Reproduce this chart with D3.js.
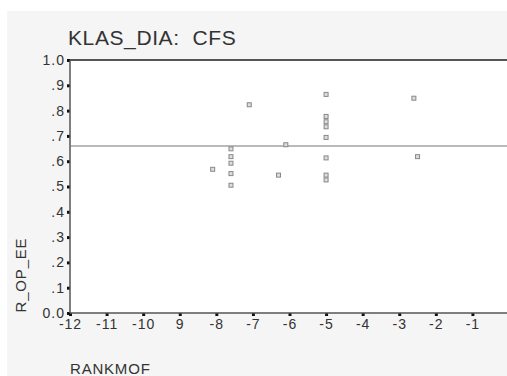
<!DOCTYPE html>
<html><head><meta charset="utf-8">
<script src="https://cdn.jsdelivr.net/npm/d3@7/dist/d3.min.js"></script>
<style>html,body{margin:0;padding:0;background:#fff;overflow:hidden}</style>
</head><body><svg id="c" width="507" height="376"></svg>
<script>
const title = "KLAS_DIA:  CFS";
const xLabel = "RANKMOF";
const yLabel = "R_OP_EE";
const xTicks = [-12,-11,-10,-9,-8,-7,-6,-5,-4,-3,-2,-1];
const xTickLabels = ["-12","-11","-10","9","-8","-7","-6","-5","-4","-3","-2","-1"];
const yTicks = [0,0.1,0.2,0.3,0.4,0.5,0.6,0.7,0.8,0.9,1.0];
const yTickLabels = ["0.0",".1",".2",".3",".4",".5",".6",".7",".8",".9","1.0"];
const refLine = 0.66;
const xs = [-7.1,-5,-2.6,-5,-5,-5,-5,-6.1,-7.6,-7.6,-7.6,-7.6,-7.6,-8.1,-6.3,-5,-5,-5,-2.5];
const ys = [0.823,0.864,0.849,0.777,0.756,0.736,0.694,0.665,0.649,0.618,0.592,0.551,0.505,0.568,0.545,0.613,0.545,0.526,0.618];

const svg = d3.select("#c");
const font = "'Liberation Sans', Arial, sans-serif";
svg.append("rect").attr("x",7).attr("y",11).attr("width",500).attr("height",365).attr("fill","#f5f5f5");
const x = d3.scaleLinear().domain([-12,0]).range([70,509]);
const y = d3.scaleLinear().domain([0,1]).range([313,60]);
svg.append("rect").attr("x",x(-12)).attr("y",y(1)).attr("width",507-x(-12)).attr("height",y(0)-y(1)).attr("fill","#fff");

svg.append("text").attr("x",68).attr("y",45).attr("font-family",font).attr("font-size",21)
  .attr("letter-spacing",0.6).style("white-space","pre").attr("fill","#333").text(title);

// x axis
const xa = svg.append("g").attr("transform",`translate(0,${y(0)})`)
  .call(d3.axisBottom(x).tickValues(xTicks).tickFormat((d,i)=>xTickLabels[i]).tickSize(0).tickPadding(6));
xa.select(".domain").remove();
xa.selectAll("text").attr("font-family",font).attr("font-size",14).attr("letter-spacing",1).attr("fill","#333");
xa.selectAll(".tick").append("rect").attr("x",-1.5).attr("y",0).attr("width",3).attr("height",3).attr("fill","#111");

const ya = svg.append("g").attr("transform",`translate(${x(-12)},0)`)
  .call(d3.axisLeft(y).tickValues(yTicks).tickFormat((d,i)=>yTickLabels[i]).tickSize(0).tickPadding(5));
ya.select(".domain").remove();
ya.selectAll("text").attr("font-family",font).attr("font-size",14).attr("letter-spacing",1).attr("fill","#333");
ya.selectAll(".tick").append("rect").attr("x",-3).attr("y",-1.5).attr("width",3).attr("height",3).attr("fill","#111");

// frame lines
svg.append("line").attr("x1",x(-12)).attr("x2",507).attr("y1",y(0)).attr("y2",y(0)).attr("stroke","#555").attr("stroke-width",1.5);
svg.append("line").attr("x1",x(-12)).attr("x2",507).attr("y1",y(1)).attr("y2",y(1)).attr("stroke","#555").attr("stroke-width",2);
svg.append("line").attr("x1",x(-12)).attr("x2",x(-12)).attr("y1",y(1)).attr("y2",y(0)).attr("stroke","#555").attr("stroke-width",1.5);

svg.append("line").attr("x1",x(-12)).attr("x2",507).attr("y1",y(refLine)).attr("y2",y(refLine)).attr("stroke","#777").attr("stroke-width",1.2);

svg.append("g").selectAll("rect").data(xs).join("rect")
  .attr("x",(d)=>x(d)-2).attr("y",(d,i)=>y(ys[i])-2).attr("width",4).attr("height",4)
  .attr("fill","#ddd").attr("stroke","#888").attr("stroke-width",1);

svg.append("text").attr("transform","translate(26,275) rotate(-90)").attr("text-anchor","middle")
  .attr("font-family",font).attr("font-size",15).attr("letter-spacing",0.8).attr("fill","#333").text(yLabel);
svg.append("text").attr("x",70).attr("y",374).attr("font-family",font).attr("font-size",15)
  .attr("letter-spacing",0.8).attr("fill","#333").text(xLabel);
</script></body></html>
